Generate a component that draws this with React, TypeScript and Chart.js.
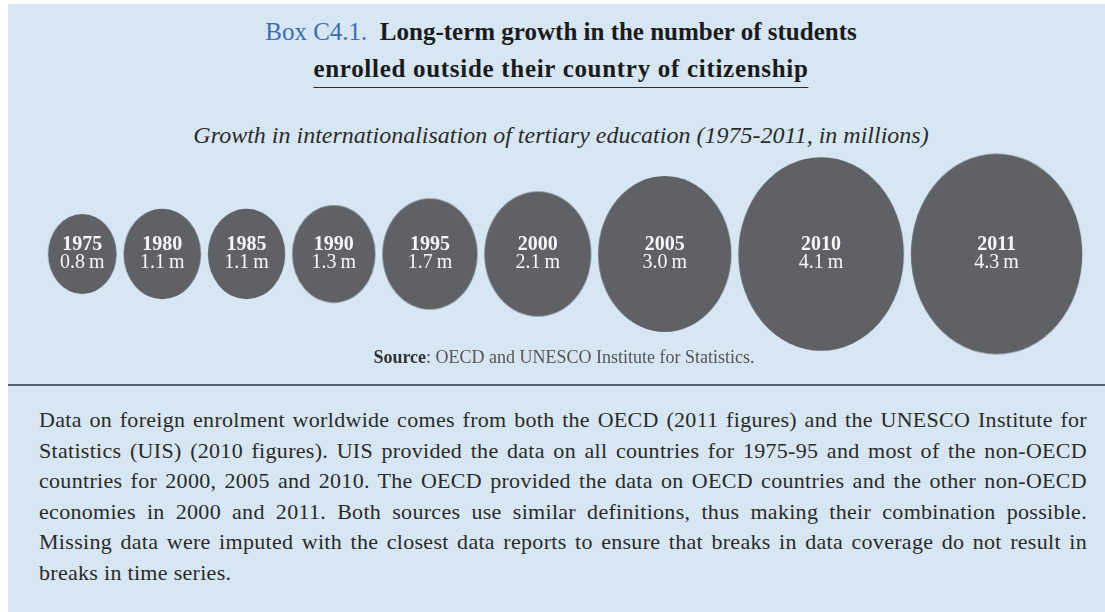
import React, { useEffect, useRef } from "react";
import { Chart, registerables } from "chart.js";

Chart.register(...registerables);

// ---------- data ----------
const years = ["1975", "1980", "1985", "1990", "1995", "2000", "2005", "2010", "2011"];
const students = [0.8, 1.1, 1.1, 1.3, 1.7, 2.1, 3.0, 4.1, 4.3]; // millions
const unitLabel = "m";

const titleLead = "Box C4.1.";
const titleLine1 = "Long-term growth in the number of students";
const titleLine2 = "enrolled outside their country of citizenship";
const subtitle = "Growth in internationalisation of tertiary education (1975-2011, in millions)";
const sourceLabel = "Source";
const sourceText = ": OECD and UNESCO Institute for Statistics.";
const noteLines = [
  "Data on foreign enrolment worldwide comes from both the OECD (2011 figures) and the UNESCO Institute for",
  "Statistics (UIS) (2010 figures). UIS provided the data on all countries for 1975-95 and most of the non-OECD",
  "countries for 2000, 2005 and 2010. The OECD provided the data on OECD countries and the other non-OECD",
  "economies in 2000 and 2011. Both sources use similar definitions, thus making their combination possible.",
  "Missing data were imputed with the closest data reports to ensure that breaks in data coverage do not result in",
  "breaks in time series.",
];

// ---------- styles ----------
const SERIF = "'Liberation Serif', 'Times New Roman', serif";
const BG = "#d7e6f3";
const BUBBLE = "#5f6166";
const CANVAS_W = 1105;
const CANVAS_H = 230;
const CANVAS_TOP = 139;
const STRETCH = 1.17; // bubbles are slightly taller than wide
const GAP = 7;
const START = 48;
const halfWidth = (v: number) => 22.5 + 14.7 * v;

const labelPlugin = {
  id: "bubbleLabels",
  afterDatasetsDraw(chart: any) {
    const { ctx } = chart;
    const meta = chart.getDatasetMeta(0);
    ctx.save();
    ctx.fillStyle = "#f6f6f6";
    ctx.textAlign = "center";
    ctx.textBaseline = "alphabetic";
    meta.data.forEach((el: any, i: number) => {
      ctx.font = `bold 20px ${SERIF}`;
      ctx.fillText(years[i], el.x, el.y - 4);
      ctx.font = `20px ${SERIF}`;
      ctx.fillText(students[i].toFixed(1) + "\u2009" + unitLabel, el.x, el.y + 14);
    });
    ctx.restore();
  },
};

export default function App() {
  const canvasRef = useRef<HTMLCanvasElement | null>(null);

  useEffect(() => {
    document.body.style.margin = "0";
    const canvas = canvasRef.current;
    if (!canvas) return;

    const radii = students.map(halfWidth);
    const xs: number[] = [];
    let cursor = START;
    radii.forEach((r) => {
      xs.push(cursor + r);
      cursor += 2 * r + GAP;
    });

    const ellipses = radii.map((r) => {
      const c = document.createElement("canvas");
      c.width = Math.round(2 * r) + 2;
      c.height = Math.round(2 * r * STRETCH) + 2;
      const g = c.getContext("2d")!;
      g.fillStyle = BUBBLE;
      g.beginPath();
      g.ellipse(c.width / 2, c.height / 2, r, r * STRETCH, 0, 0, Math.PI * 2);
      g.fill();
      return c;
    });

    const chart = new Chart(canvas, {
      type: "bubble",
      data: {
        labels: years,
        datasets: [
          {
            label: "Students enrolled abroad (millions)",
            data: students.map((v, i) => ({ x: xs[i], y: 0, r: radii[i] })),
            backgroundColor: BUBBLE,
            borderWidth: 0,
            pointStyle: ellipses as any,
            clip: false as any,
          },
        ],
      },
      options: {
        responsive: false,
        animation: false,
        layout: { autoPadding: false, padding: 0 } as any,
        plugins: { legend: { display: false }, tooltip: { enabled: false }, title: { display: false } },
        scales: {
          x: { type: "linear", display: false, min: 0, max: CANVAS_W },
          y: { type: "linear", display: false, min: -1, max: 1 },
        },
      },
      plugins: [labelPlugin as any],
    });

    return () => chart.destroy();
  }, []);

  const centered: React.CSSProperties = {
    position: "absolute",
    left: 561,
    transform: "translateX(-50%)",
    whiteSpace: "nowrap",
    fontFamily: SERIF,
  };

  return (
    <div style={{ position: "relative", width: 1105, height: 612, background: "#ffffff", overflow: "hidden" }}>
      <div style={{ position: "absolute", left: 8, top: 4, right: 0, bottom: 0, background: BG }} />

      <div style={{ ...centered, top: 17, fontSize: 25, lineHeight: "30px", color: "#1b1b1b" }}>
        <span style={{ color: "#3d6db0" }}>{titleLead}</span>
        <span style={{ fontWeight: "bold" }}>{"\u00a0\u00a0" + titleLine1}</span>
      </div>
      <div
        style={{
          ...centered,
          top: 54,
          fontSize: 25,
          lineHeight: "30px",
          color: "#1b1b1b",
          fontWeight: "bold",
          letterSpacing: "0.7px",
        }}
      >
        <span style={{ display: "inline-block", borderBottom: "1.5px solid #2a2a2a", lineHeight: "30px", height: 33 }}>
          {titleLine2}
        </span>
      </div>

      <div style={{ ...centered, top: 120, fontSize: 24, lineHeight: "30px", color: "#2b2b2b", fontStyle: "italic" }}>
        {subtitle}
      </div>

      <canvas
        ref={canvasRef}
        width={CANVAS_W}
        height={CANVAS_H}
        style={{ position: "absolute", left: 0, top: CANVAS_TOP, width: CANVAS_W, height: CANVAS_H }}
      />

      <div style={{ ...centered, left: 564, top: 345, fontSize: 18, lineHeight: "24px", color: "#555" }}>
        <span style={{ fontWeight: "bold", color: "#333" }}>{sourceLabel}</span>
        {sourceText}
      </div>

      <div style={{ position: "absolute", left: 8, right: 0, top: 384, height: 2, background: "#56606a" }} />

      {noteLines.map((line, i) => {
        const last = i === noteLines.length - 1;
        return (
          <div
            key={i}
            style={{
              position: "absolute",
              left: 39,
              width: 1048,
              top: 405 + i * 30.5,
              fontFamily: SERIF,
              fontSize: 22,
              letterSpacing: "0.3px",
              lineHeight: "30px",
              color: "#2a2a2a",
              whiteSpace: "nowrap",
              textAlign: last ? "left" : "justify",
              textAlignLast: last ? "left" : "justify",
            } as React.CSSProperties}
          >
            {line}
          </div>
        );
      })}
    </div>
  );
}
